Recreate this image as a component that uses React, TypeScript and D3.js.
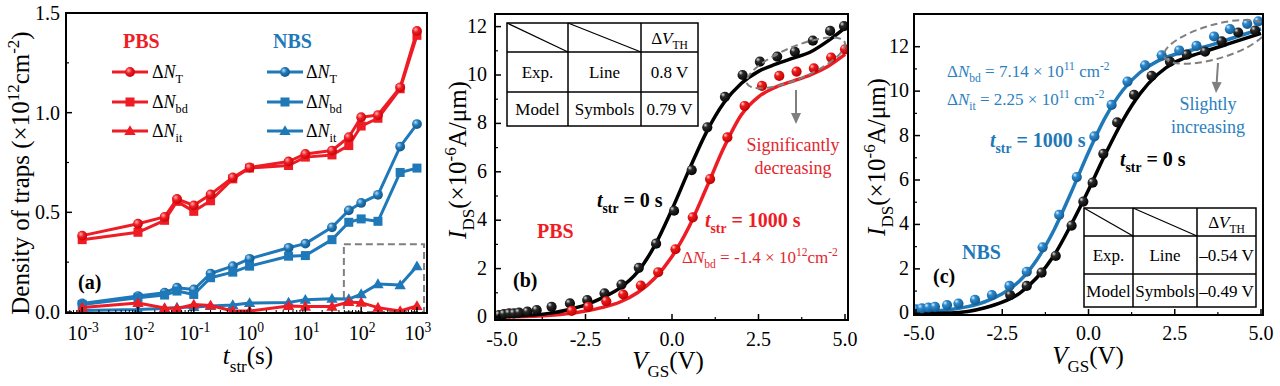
import React from 'react';
import * as d3 from 'd3';

const FONT = '"Liberation Serif","Times New Roman",Times,serif';
const RED = '#ee1c24';
const RED_TXT = '#e3262c';
const BLUE = '#1f78b8';
const BLUE_TXT = '#2b80c0';
const GRAY = '#7f7f7f';

// ---------- Panel (a) data ----------
const tStr = [1e-3, 1e-2, 3e-2, 5e-2, 1e-1, 2e-1, 5e-1, 1, 5, 10, 30, 60, 100, 200, 500, 1000];
const pbsNT = [0.383, 0.443, 0.477, 0.567, 0.535, 0.59, 0.675, 0.725, 0.755, 0.793, 0.81, 0.877, 0.977, 0.988, 1.127, 1.41];
const pbsNbd = [0.363, 0.4, 0.46, 0.555, 0.505, 0.558, 0.668, 0.722, 0.735, 0.777, 0.788, 0.835, 0.933, 0.972, 1.12, 1.388];
const pbsNit = [0.022, 0.045, 0.02, 0.017, 0.038, 0.033, 0.005, 0.005, 0.03, 0.027, 0.027, 0.05, 0.047, 0.022, 0.005, 0.03];
const nbsNT = [0.043, 0.08, 0.097, 0.122, 0.113, 0.193, 0.23, 0.267, 0.322, 0.343, 0.425, 0.51, 0.547, 0.588, 0.83, 0.943];
const nbsNbd = [0.038, 0.072, 0.085, 0.105, 0.088, 0.172, 0.2, 0.23, 0.28, 0.283, 0.363, 0.45, 0.467, 0.455, 0.7, 0.722];
const nbsNit = [0.008, 0.012, 0.018, 0.022, 0.025, 0.03, 0.035, 0.045, 0.048, 0.062, 0.067, 0.065, 0.09, 0.14, 0.135, 0.23];
const aYTicks = [0, 0.5, 1.0, 1.5];
const aYMinor = [0.25, 0.75, 1.25];
const aXExp = [-3, -2, -1, 0, 1, 2, 3];

// ---------- Panels (b), (c) data ----------
const vLine = [-5, -4.5, -4, -3.5, -3, -2.5, -2, -1.5, -1, -0.5, 0, 0.5, 1, 1.5, 2, 2.5, 3, 3.5, 4, 4.5, 5];
const bLine0 = [0.02, 0.04, 0.08, 0.16, 0.3, 0.5, 0.8, 1.2, 1.85, 2.95, 4.45, 6.1, 7.65, 8.85, 9.65, 10.15, 10.45, 10.7, 10.95, 11.4, 11.95];
const bLine1000 = [0, 0.01, 0.03, 0.07, 0.14, 0.25, 0.4, 0.62, 1.0, 1.6, 2.5, 3.75, 5.35, 7.0, 8.35, 9.1, 9.5, 9.75, 10.0, 10.35, 10.85];
const bSymV0 = [-5.0, -4.86, -4.71, -4.57, -4.42, -4.18, -3.91, -3.48, -2.95, -2.45, -1.95, -1.46, -0.96, -0.46, 0.06, 0.57, 1.02, 1.53, 2.04, 2.54, 3.04, 3.55, 4.07, 4.57, 4.97];
const bSym0 = [0.08, 0.12, 0.15, 0.15, 0.18, 0.22, 0.29, 0.42, 0.56, 0.7, 0.98, 1.34, 2.03, 3.03, 4.39, 6.07, 7.84, 9.1, 10.0, 10.55, 10.76, 10.96, 11.42, 11.82, 12.02];
const bSymV1000 = [-2.9, -2.42, -1.9, -1.41, -0.9, -0.4, 0.1, 0.6, 1.1, 1.6, 2.1, 2.6, 3.1, 3.6, 4.1, 4.6, 5.0];
const bSym1000 = [0.25, 0.42, 0.65, 0.93, 1.3, 1.85, 2.8, 4.12, 5.7, 7.42, 8.72, 9.55, 9.96, 10.14, 10.27, 10.72, 11.06];

const cLine0 = [0, 0, 0.01, 0.08, 0.25, 0.5, 0.9, 1.6, 2.6, 4.0, 5.55, 7.2, 8.7, 9.9, 10.75, 11.3, 11.6, 11.85, 12.1, 12.35, 12.6];
const cLine1000 = [0.06, 0.1, 0.17, 0.3, 0.52, 0.88, 1.45, 2.4, 3.75, 5.45, 7.25, 8.85, 10.05, 10.85, 11.35, 11.65, 11.85, 12.05, 12.3, 12.55, 12.8];
const cSymV0 = [-2.27, -1.79, -1.36, -0.95, -0.49, -0.15, 0.12, 0.43, 0.83, 1.32, 1.83, 2.36, 2.85, 3.38, 3.86, 4.34, 4.83];
const cSym0 = [0.82, 1.23, 1.83, 2.58, 3.95, 5.03, 5.88, 7.18, 8.59, 9.83, 10.69, 11.33, 11.64, 11.78, 12.24, 12.64, 12.73];
const cSymV1000 = [-5.0, -4.83, -4.64, -4.45, -4.1, -3.77, -3.29, -2.8, -2.29, -1.79, -1.33, -0.85, -0.34, 0.17, 0.67, 1.13, 1.64, 2.12, 2.63, 3.13, 3.64, 4.1, 4.6, 4.92];
const cSym1000 = [0.18, 0.22, 0.26, 0.29, 0.37, 0.44, 0.6, 0.82, 1.23, 1.87, 2.97, 4.43, 6.13, 7.96, 9.38, 10.43, 11.16, 11.61, 11.83, 12.04, 12.46, 12.79, 13.03, 13.14];

const vXTicks = [-5, -2.5, 0, 2.5, 5];
const vXMinor = [-3.75, -1.25, 1.25, 3.75];
const iYTicks = [0, 2, 4, 6, 8, 10, 12];
const iYMinor = [1, 3, 5, 7, 9, 11];

const bTable = [['', '', 'ΔV_TH'], ['Exp.', 'Line', '0.8 V'], ['Model', 'Symbols', '0.79 V']];
const cTable = [['', '', 'ΔV_TH'], ['Exp.', 'Line', '–0.54 V'], ['Model', 'Symbols', '–0.49 V']];

type Seg = { t: string; i?: boolean; sub?: boolean; sup?: boolean };

function Rich(props: {
  x?: number; y?: number; size: number; segs: Seg[]; anchor?: string; fill?: string; weight?: string; transform?: string;
}) {
  const { x = 0, y = 0, size, segs, anchor = 'start', fill = '#000', weight = 'normal', transform } = props;
  let cur = 0;
  return (
    <text x={x} y={y} fontSize={size} textAnchor={anchor as any} fill={fill} fontWeight={weight}
      fontFamily={FONT} transform={transform} style={{ whiteSpace: 'pre' }}>
      {segs.map((s, k) => {
        const target = s.sub ? size * 0.3 : s.sup ? -size * 0.4 : 0;
        const dy = target - cur;
        cur = target;
        return (
          <tspan key={k} dy={dy} fontSize={s.sub || s.sup ? size * 0.68 : size} fontStyle={s.i ? 'italic' : 'normal'}>
            {s.t}
          </tspan>
        );
      })}
    </text>
  );
}

const fmtV = (v: number) => (v < 0 ? '-' : '') + Math.abs(v).toFixed(1);

function Ball({ cx, cy, r, grad }: { cx: number; cy: number; r: number; grad: string }) {
  return <circle cx={cx} cy={cy} r={r} fill={`url(#${grad})`} />;
}

function Marker({ kind, x, y, color, grad }: { kind: string; x: number; y: number; color: string; grad: string }) {
  if (kind === 'circle') return <circle cx={x} cy={y} r={4.9} fill={`url(#${grad})`} />;
  if (kind === 'square') return <rect x={x - 4.5} y={y - 4.5} width={9} height={9} fill={color} />;
  const p = d3.symbol(d3.symbolTriangle, 56)();
  return <path d={p as string} transform={`translate(${x},${y + 0.8})`} fill={color} />;
}

function PanelA() {
  const L = 66, R = 427, T = 13, B = 313;
  const x = d3.scaleLog().domain([Math.pow(10, -3.29), Math.pow(10, 3.18)]).range([L, R]);
  const y = d3.scaleLinear().domain([-0.005, 1.5]).range([B, T]);
  const line = d3.line<[number, number]>().x(d => x(d[0])).y(d => y(d[1]));
  const series = [
    { vals: nbsNT, color: BLUE, kind: 'circle', grad: 'gBlueA' },
    { vals: nbsNbd, color: BLUE, kind: 'square', grad: 'gBlueA' },
    { vals: nbsNit, color: BLUE, kind: 'triangle', grad: 'gBlueA' },
    { vals: pbsNit, color: RED, kind: 'triangle', grad: 'gRedA' },
    { vals: pbsNbd, color: RED, kind: 'square', grad: 'gRedA' },
    { vals: pbsNT, color: RED, kind: 'circle', grad: 'gRedA' },
  ];
  const minor: number[] = [];
  for (let e = -4; e <= 3; e++) for (let m = 2; m <= 9; m++) {
    const v = m * Math.pow(10, e);
    if (v > x.domain()[0] && v < x.domain()[1]) minor.push(v);
  }
  const legend = [
    { kind: 'circle', sub: 'T' }, { kind: 'square', sub: 'bd' }, { kind: 'triangle', sub: 'it' },
  ];
  const legRows = [72, 102, 131];
  return (
    <g>
      <clipPath id="clipA"><rect x={L} y={T} width={R - L} height={B - T} /></clipPath>
      <g clipPath="url(#clipA)">
        <rect x={x(49)} y={y(0.34)} width={x(1340) - x(49)} height={y(0) - y(0.34)} fill="none"
          stroke={GRAY} strokeWidth={2} strokeDasharray="7 4" />
        {series.map((s, k) => {
          const pts = tStr.map((t, i) => [t, s.vals[i]] as [number, number]);
          return (
            <g key={k}>
              <path d={line(pts) as string} fill="none" stroke={s.color} strokeWidth={3} strokeLinejoin="round" />
              {pts.map((p, i) => <Marker key={i} kind={s.kind} x={x(p[0])} y={y(p[1])} color={s.color} grad={s.grad} />)}
            </g>
          );
        })}
      </g>
      <text x={123} y={48} fontSize={20} fontWeight="bold" fill={RED} fontFamily={FONT}>PBS</text>
      <text x={273} y={48} fontSize={20} fontWeight="bold" fill={BLUE} fontFamily={FONT}>NBS</text>
      {legend.map((lg, k) => (
        <g key={k}>
          <line x1={112} x2={148} y1={legRows[k]} y2={legRows[k]} stroke={RED} strokeWidth={3} />
          <Marker kind={lg.kind} x={130} y={legRows[k]} color={RED} grad="gRedA" />
          <Rich x={152} y={legRows[k] + 6} size={18} segs={[{ t: 'Δ' }, { t: 'N', i: true }, { t: lg.sub, sub: true }]} />
          <line x1={267} x2={303} y1={legRows[k]} y2={legRows[k]} stroke={BLUE} strokeWidth={3} />
          <Marker kind={lg.kind} x={285} y={legRows[k]} color={BLUE} grad="gBlueA" />
          <Rich x={306} y={legRows[k] + 6} size={18} segs={[{ t: 'Δ' }, { t: 'N', i: true }, { t: lg.sub, sub: true }]} />
        </g>
      ))}
      <text x={78} y={289} fontSize={20} fontWeight="bold" fontFamily={FONT}>(a)</text>
      <rect x={L} y={T} width={R - L} height={B - T} fill="none" stroke="#000" strokeWidth={2} />
      {aYTicks.map(v => (
        <g key={v}>
          <line x1={L} x2={L + 6} y1={y(v)} y2={y(v)} stroke="#000" strokeWidth={1.5} />
          <text x={L - 6} y={y(v) + 7} fontSize={20} textAnchor="end" fontFamily={FONT}>{v.toFixed(1)}</text>
        </g>
      ))}
      {aYMinor.map(v => <line key={v} x1={L} x2={L + 3} y1={y(v)} y2={y(v)} stroke="#000" strokeWidth={1.2} />)}
      {aXExp.map(e => (
        <g key={e}>
          <line x1={x(Math.pow(10, e))} x2={x(Math.pow(10, e))} y1={B} y2={B - 6} stroke="#000" strokeWidth={1.5} />
          <Rich x={x(Math.pow(10, e)) + 1} y={340} size={20} anchor="middle" segs={[{ t: '10' }, { t: String(e), sup: true }]} />
        </g>
      ))}
      {minor.map((v, k) => <line key={k} x1={x(v)} x2={x(v)} y1={B} y2={B - 3} stroke="#000" strokeWidth={1} />)}
      <Rich x={248} y={364} size={25} anchor="middle" segs={[{ t: 't', i: true }, { t: 'str', sub: true }, { t: '(s)' }]} />
      <Rich transform="translate(29,173) rotate(-90)" size={25} anchor="middle"
        segs={[{ t: 'Density of traps (×10' }, { t: '12', sup: true }, { t: 'cm' }, { t: '-2', sup: true }, { t: ')' }]} />
    </g>
  );
}

function Table({ xs, ys, rows }: { xs: number[]; ys: number[]; rows: string[][] }) {
  return (
    <g>
      <rect x={xs[0]} y={ys[0]} width={xs[3] - xs[0]} height={ys[3] - ys[0]} fill="#fff" stroke="#000" strokeWidth={1.5} />
      {[1, 2].map(i => <line key={'c' + i} x1={xs[i]} x2={xs[i]} y1={ys[0]} y2={ys[3]} stroke="#000" strokeWidth={1.5} />)}
      {[1, 2].map(i => <line key={'r' + i} x1={xs[0]} x2={xs[3]} y1={ys[i]} y2={ys[i]} stroke="#000" strokeWidth={1.5} />)}
      <line x1={xs[0]} y1={ys[0]} x2={xs[1]} y2={ys[1]} stroke="#000" strokeWidth={1.2} />
      <line x1={xs[1]} y1={ys[0]} x2={xs[2]} y2={ys[1]} stroke="#000" strokeWidth={1.2} />
      {rows.map((row, r) => row.map((cell, c) => {
        if (!cell) return null;
        const cx = (xs[c] + xs[c + 1]) / 2;
        const cy = (ys[r] + ys[r + 1]) / 2 + 6;
        if (cell.includes('_')) {
          const [a, b] = cell.split('_');
          return <Rich key={r + '-' + c} x={cx} y={cy} size={17} anchor="middle"
            segs={[{ t: a.slice(0, 1) }, { t: a.slice(1), i: true }, { t: b, sub: true }]} />;
        }
        return <text key={r + '-' + c} x={cx} y={cy} fontSize={17} textAnchor="middle" fontFamily={FONT}>{cell}</text>;
      }))}
    </g>
  );
}

function IVPanel(props: {
  L: number; R: number; T: number; B: number; xr: [number, number]; yr: [number, number]; id: string;
  line0: number[]; line1: number[]; sv0: number[]; s0: number[]; sv1: number[]; s1: number[];
  color: string; grad: string; yOff: number; xBase: number; titleX: number; titleY: number; xTitleY: number; yTitleC: number;
  children?: any; ell: { v: number; i: number; rx: number; ry: number; rot: number };
  arrow: { x1: number; y1: number; x2: number; y2: number };
}) {
  const { L, R, T, B, id } = props;
  const x = d3.scaleLinear().domain([-5, 5]).range(props.xr);
  const y = d3.scaleLinear().domain([0, 12]).range(props.yr);
  const line = d3.line<number>().x((_, i) => x(vLine[i])).y(d => y(d)).curve(d3.curveMonotoneX);
  const ex = x(props.ell.v), ey = y(props.ell.i);
  const a = props.arrow;
  const ang = Math.atan2(a.y2 - a.y1, a.x2 - a.x1);
  const hl = 11, hw = 5;
  const bx = a.x2 - hl * Math.cos(ang), by = a.y2 - hl * Math.sin(ang);
  const head = `M${a.x2},${a.y2} L${bx - hw * Math.sin(ang)},${by + hw * Math.cos(ang)} L${bx + hw * Math.sin(ang)},${by - hw * Math.cos(ang)} Z`;
  return (
    <g>
      <clipPath id={id}><rect x={L} y={T} width={R - L} height={B - T} /></clipPath>
      <g clipPath={`url(#${id})`}>
        <path d={line(props.line1) as string} fill="none" stroke={props.color} strokeWidth={3.5} />
        <path d={line(props.line0) as string} fill="none" stroke="#000" strokeWidth={3.5} />
        {props.sv0.map((v, i) => <Ball key={'k' + i} cx={x(v)} cy={y(props.s0[i])} r={5.1} grad="gBlack" />)}
        {props.sv1.map((v, i) => <Ball key={'c' + i} cx={x(v)} cy={y(props.s1[i])} r={5.1} grad={props.grad} />)}
        <ellipse cx={ex} cy={ey} rx={props.ell.rx} ry={props.ell.ry} transform={`rotate(${props.ell.rot},${ex},${ey})`}
          fill="none" stroke={GRAY} strokeWidth={2} strokeDasharray="7 4" />
        <line x1={a.x1} y1={a.y1} x2={bx} y2={by} stroke={GRAY} strokeWidth={2} />
        <path d={head} fill={GRAY} />
      </g>
      {props.children}
      <rect x={L} y={T} width={R - L} height={B - T} fill="none" stroke="#000" strokeWidth={2} />
      {iYTicks.map(v => (
        <g key={v}>
          <line x1={L} x2={L + 6} y1={y(v)} y2={y(v)} stroke="#000" strokeWidth={1.5} />
          <text x={L - props.yOff} y={y(v) + 6} fontSize={20} textAnchor="end" fontFamily={FONT}>{v}</text>
        </g>
      ))}
      {iYMinor.map(v => <line key={v} x1={L} x2={L + 3} y1={y(v)} y2={y(v)} stroke="#000" strokeWidth={1.2} />)}
      {vXTicks.map(v => (
        <g key={v}>
          <line x1={x(v)} x2={x(v)} y1={B} y2={B - 6} stroke="#000" strokeWidth={1.5} />
          <text x={x(v) + (v === -5 ? 3 : 0)} y={props.xBase} fontSize={20} textAnchor="middle" fontFamily={FONT}>{fmtV(v)}</text>
        </g>
      ))}
      {vXMinor.map(v => <line key={v} x1={x(v)} x2={x(v)} y1={B} y2={B - 3} stroke="#000" strokeWidth={1.2} />)}
      <Rich x={props.titleX} y={props.xTitleY} size={25} anchor="middle" segs={[{ t: 'V', i: true }, { t: 'GS', sub: true }, { t: '(V)' }]} />
      <Rich transform={`translate(${props.titleY},${props.yTitleC}) rotate(-90)`} size={25} anchor="middle"
        segs={[{ t: 'I', i: true }, { t: 'DS', sub: true }, { t: '(×10' }, { t: '-6', sup: true }, { t: 'A/μm)' }]} />
    </g>
  );
}

export default function App() {
  return (
    <svg width={1280} height={386} style={{ position: 'absolute', left: 0, top: 0, background: '#fff' }}>
      <defs>
        <radialGradient id="gBlack" cx="0.38" cy="0.35" r="0.7" fx="0.3" fy="0.28">
          <stop offset="0" stopColor="#e0e0e0" />
          <stop offset="0.32" stopColor="#2a2a2a" />
          <stop offset="1" stopColor="#000" />
        </radialGradient>
        <radialGradient id="gRed" cx="0.38" cy="0.35" r="0.7" fx="0.3" fy="0.28">
          <stop offset="0" stopColor="#ffdada" />
          <stop offset="0.32" stopColor="#f01a1a" />
          <stop offset="1" stopColor="#b80000" />
        </radialGradient>
        <radialGradient id="gBlue" cx="0.38" cy="0.35" r="0.7" fx="0.3" fy="0.28">
          <stop offset="0" stopColor="#e0f1ff" />
          <stop offset="0.32" stopColor="#2b8ad0" />
          <stop offset="1" stopColor="#125487" />
        </radialGradient>
        <radialGradient id="gRedA" cx="0.4" cy="0.4" r="0.65" fx="0.35" fy="0.32">
          <stop offset="0" stopColor="#ffb0b0" />
          <stop offset="0.45" stopColor={RED} />
          <stop offset="1" stopColor="#c40000" />
        </radialGradient>
        <radialGradient id="gBlueA" cx="0.4" cy="0.4" r="0.65" fx="0.35" fy="0.32">
          <stop offset="0" stopColor="#b8dcf8" />
          <stop offset="0.45" stopColor={BLUE} />
          <stop offset="1" stopColor="#125487" />
        </radialGradient>
      </defs>
      <PanelA />
      <IVPanel L={495} R={848} T={14} B={320} xr={[499, 845]} yr={[317, 26.6]} id="clipB"
        line0={bLine0} line1={bLine1000} sv0={bSymV0} s0={bSym0} sv1={bSymV1000} s1={bSym1000}
        color={RED} grad="gRed" yOff={8} xBase={346} titleX={668} titleY={466} xTitleY={369} yTitleC={160}
        ell={{ v: 3.58, i: 10.5, rx: 53, ry: 16, rot: -23 }} arrow={{ x1: 796, y1: 90, x2: 796, y2: 124 }}>
        <Table xs={[507, 568, 641, 698]} ys={[23, 52, 92, 126]} rows={bTable} />
        <text x={793} y={151} fontSize={18} textAnchor="middle" fill={RED_TXT} fontFamily={FONT}>Significantly</text>
        <text x={793} y={174} fontSize={18} textAnchor="middle" fill={RED_TXT} fontFamily={FONT}>decreasing</text>
        <Rich x={597} y={207} size={20} weight="bold" segs={[{ t: 't', i: true }, { t: 'str', sub: true }, { t: ' = 0 s' }]} />
        <Rich x={705} y={227} size={20} weight="bold" fill={RED} segs={[{ t: 't', i: true }, { t: 'str', sub: true }, { t: ' = 1000 s' }]} />
        <Rich x={682} y={263} size={17} fill={RED_TXT}
          segs={[{ t: 'Δ' }, { t: 'N', i: true }, { t: 'bd', sub: true }, { t: ' = -1.4 × 10' }, { t: '12', sup: true }, { t: 'cm' }, { t: '-2', sup: true }]} />
        <text x={537} y={238} fontSize={20} fontWeight="bold" fill={RED} fontFamily={FONT}>PBS</text>
        <text x={513} y={287} fontSize={20} fontWeight="bold" fontFamily={FONT}>(b)</text>
      </IVPanel>
      <IVPanel L={914} R={1263} T={14} B={315} xr={[916, 1261]} yr={[313.3, 46.7]} id="clipC"
        line0={cLine0} line1={cLine1000} sv0={cSymV0} s0={cSym0} sv1={cSymV1000} s1={cSym1000}
        color={BLUE} grad="gBlue" yOff={5} xBase={340} titleX={1088} titleY={885} xTitleY={364} yTitleC={157}
        ell={{ v: 3.67, i: 12.22, rx: 53, ry: 17, rot: -16 }} arrow={{ x1: 1218, y1: 63, x2: 1216, y2: 93 }}>
        <Table xs={[1084, 1133, 1197, 1256]} ys={[208, 236, 274, 307]} rows={cTable} />
        <Rich x={947} y={77} size={17} fill={BLUE_TXT}
          segs={[{ t: 'Δ' }, { t: 'N', i: true }, { t: 'bd', sub: true }, { t: ' = 7.14 × 10' }, { t: '11', sup: true }, { t: ' cm' }, { t: '-2', sup: true }]} />
        <Rich x={947} y={105} size={17} fill={BLUE_TXT}
          segs={[{ t: 'Δ' }, { t: 'N', i: true }, { t: 'it', sub: true }, { t: ' = 2.25 × 10' }, { t: '11', sup: true }, { t: ' cm' }, { t: '-2', sup: true }]} />
        <Rich x={990} y={147} size={20} weight="bold" fill={BLUE} segs={[{ t: 't', i: true }, { t: 'str', sub: true }, { t: ' = 1000 s' }]} />
        <Rich x={1120} y={166} size={20} weight="bold" segs={[{ t: 't', i: true }, { t: 'str', sub: true }, { t: ' = 0 s' }]} />
        <text x={1208} y={110} fontSize={18} textAnchor="middle" fill={BLUE_TXT} fontFamily={FONT}>Slightly</text>
        <text x={1208} y={133} fontSize={18} textAnchor="middle" fill={BLUE_TXT} fontFamily={FONT}>increasing</text>
        <text x={962} y={259} fontSize={20} fontWeight="bold" fill={BLUE} fontFamily={FONT}>NBS</text>
        <text x={933} y={283} fontSize={20} fontWeight="bold" fontFamily={FONT}>(c)</text>
      </IVPanel>
    </svg>
  );
}
